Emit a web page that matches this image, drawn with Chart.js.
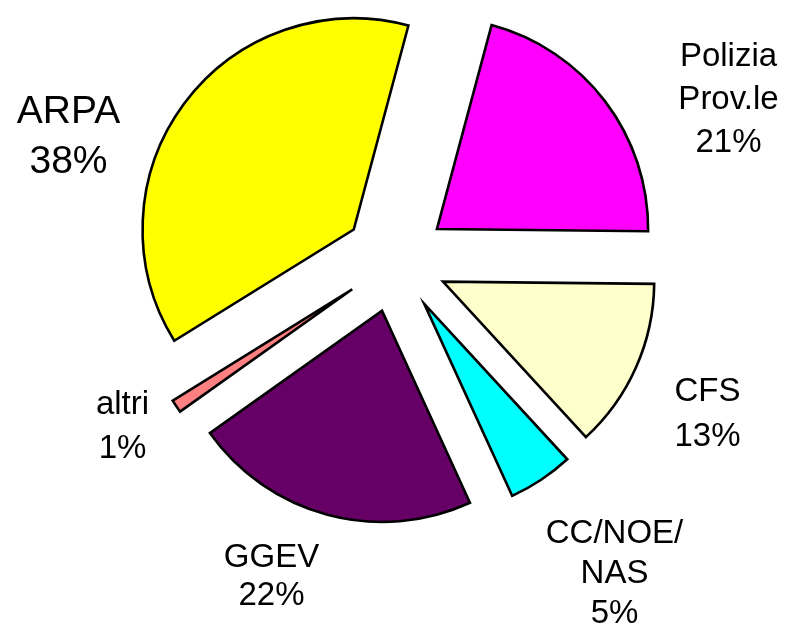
<!DOCTYPE html>
<html>
<head>
<meta charset="utf-8">
<script src="https://cdn.jsdelivr.net/npm/chart.js@4"></script>
<style>
  html, body { margin: 0; padding: 0; background: #fff; }
  #chart { display: block; }
</style>
</head>
<body>
<canvas id="chart" width="789" height="630"></canvas>
<script>
// slices, clockwise from the top-right
const categories = [["Polizia", "Prov.le"], ["CFS"], ["CC/NOE/", "NAS"], ["GGEV"], ["altri"], ["ARPA"]];
const shares = [21, 13, 5, 22, 1, 38];
const sliceColors = ["#ff00ff", "#ffffcc", "#00ffff", "#660066", "#ff8080", "#ffff00"];

const EXPLODE = 52; // px each slice is pulled out of the centre

// where each label sits, relative to the pie centre (x = text centre, y = first baseline)
const labelSpots = [
  { dx: 333, dy: -195, lh: 43, size: 33 },
  { dx: 312, dy: 140, lh: 45, size: 33 },
  { dx: 219, dy: 282, lh: 40, size: 33 },
  { dx: -124, dy: 306, lh: 38, size: 33 },
  { dx: -273, dy: 153, lh: 44, size: 33 },
  { dx: -327, dy: -138, lh: 50, size: 39 },
];

const explodePlugin = {
  id: "explode",
  afterDatasetUpdate(chart, args) {
    args.meta.data.forEach((arc) => {
      const mid = (arc.startAngle + arc.endAngle) / 2;
      arc.x += Math.cos(mid) * EXPLODE;
      arc.y += Math.sin(mid) * EXPLODE;
    });
  },
};

const labelPlugin = {
  id: "sliceLabels",
  afterDatasetsDraw(chart) {
    const ctx = chart.ctx;
    const area = chart.chartArea;
    const cx = (area.left + area.right) / 2;
    const cy = (area.top + area.bottom) / 2;
    ctx.save();
    ctx.fillStyle = "#000";
    ctx.textAlign = "center";
    ctx.textBaseline = "alphabetic";
    categories.forEach((lines, i) => {
      const spot = labelSpots[i];
      ctx.font = spot.size + "px 'Liberation Sans', Arial, sans-serif";
      const all = lines.concat([shares[i] + "%"]);
      all.forEach((txt, j) => {
        ctx.fillText(txt, cx + spot.dx, cy + spot.dy + j * spot.lh);
      });
    });
    ctx.restore();
  },
};

new Chart(document.getElementById("chart"), {
  type: "pie",
  data: {
    labels: categories.map((l) => l.join(" ")),
    datasets: [
      {
        data: shares,
        backgroundColor: sliceColors,
        borderColor: "#000",
        borderWidth: 2.6,
        borderJoinStyle: "miter",
        hoverOffset: 0,
        hoverBorderWidth: 2.6,
      },
    ],
  },
  options: {
    responsive: false,
    animation: false,
    events: [],
    rotation: 15,
    layout: {
      padding: { left: 183, top: 48, right: 181, bottom: 157 },
    },
    plugins: {
      legend: { display: false },
      tooltip: { enabled: false },
    },
  },
  plugins: [explodePlugin, labelPlugin],
});
</script>
</body>
</html>
